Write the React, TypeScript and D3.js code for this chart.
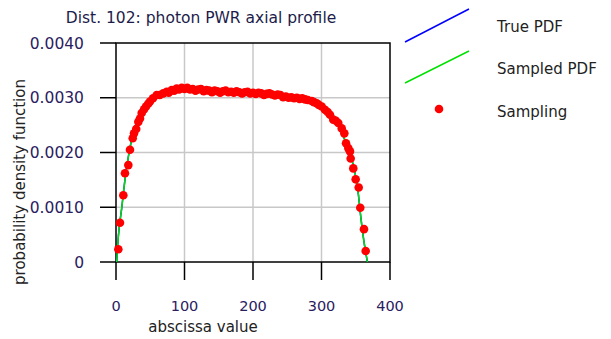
import React, { useRef, useEffect } from "react";
import * as d3 from "d3";

// sampled points (abscissa, pdf)
const sampleX = [
  3.4, 5.8, 10.7, 13.1, 18, 20.4, 24.4, 26.3, 29.5, 32.6, 35, 37.5, 41, 43.8, 47, 49.6, 54, 59.4, 64, 69, 74,
  77, 81.3, 85, 88.6, 92, 96, 100, 104, 108, 112, 116, 120, 124, 128, 132, 136, 140, 144, 148, 152, 156, 160,
  164, 168, 172, 176, 180, 184, 188, 192, 196, 200, 204, 208, 212, 216, 220, 224, 228, 232, 236, 240, 244, 248,
  252, 256, 260, 264, 268, 272, 276, 280, 285.7, 289, 293, 296, 300.3, 305.1, 309, 312.4, 317.2, 321, 324.5,
  329.5, 333.3, 335.8, 339.1, 341.6, 342.6, 346.4, 349.9, 354.3, 356.6, 362, 364.5,
];
const sampleY = [
  0.000232, 0.000718, 0.00122, 0.00162, 0.00177, 0.00205, 0.00226, 0.00235, 0.00243, 0.00256, 0.00262, 0.00272,
  0.00279, 0.00284, 0.00289, 0.00293, 0.00299, 0.00305, 0.00305, 0.00308, 0.00311, 0.00309, 0.00314, 0.00313,
  0.00317, 0.00315, 0.00318, 0.00316, 0.00318, 0.00315, 0.00316, 0.00313, 0.00315, 0.00316, 0.00312, 0.00314,
  0.00313, 0.0031, 0.00313, 0.00312, 0.00309, 0.00312, 0.00313, 0.0031, 0.00311, 0.00309, 0.00312, 0.0031,
  0.00308, 0.0031, 0.00311, 0.00308, 0.00309, 0.00307, 0.00309, 0.00308, 0.00305, 0.00307, 0.00308, 0.00306,
  0.00304, 0.00306, 0.00305, 0.00301, 0.00302, 0.003, 0.00301, 0.00299, 0.003, 0.00298, 0.00299, 0.00297,
  0.00296, 0.00294, 0.00292, 0.0029, 0.00287, 0.00284, 0.00278, 0.00274, 0.00269, 0.0026, 0.00258, 0.00254,
  0.00244, 0.00235, 0.00217, 0.00208, 0.00202, 0.00189, 0.00171, 0.00151, 0.00136, 0.00099, 0.0006, 0.0002,
];

// pdf curve (true / sampled pdf lie on top of each other)
const pdfX = [1, 3.4, 8.3, 13.1, 18, 27.7, 40, 55, 75, 100, 150, 200, 250, 280, 300, 320, 332, 344, 349, 353.7, 357, 361, 367];
const pdfY = [
  0, 0.00046, 0.00098, 0.0015, 0.00192, 0.00247, 0.00278, 0.003, 0.00312, 0.00316, 0.00313, 0.0031, 0.00303,
  0.00296, 0.00284, 0.00262, 0.00229, 0.00189, 0.00162, 0.00125, 0.00086, 0.00046, 0,
];

const xTicks = [0, 100, 200, 300, 400];
const yTicks = [0, 0.001, 0.002, 0.003, 0.004];
const yTickLabels = ["0", "0.0010", "0.0020", "0.0030", "0.0040"];
const legendItems = ["True PDF", "Sampled PDF", "Sampling"];

const W = 611;
const H = 339;
const margin = { top: 43, right: 221, bottom: 77, left: 116 };
const FONT = "DejaVu Sans, Verdana, sans-serif";

const Chart: React.FC = () => {
  const svgRef = useRef<SVGGElement | null>(null);

  useEffect(() => {
    if (!svgRef.current) return;
    const g = d3.select(svgRef.current);
    g.selectAll("*").remove();

    const innerW = W - margin.left - margin.right;
    const innerH = H - margin.top - margin.bottom;
    const x = d3.scaleLinear().domain([0, 400]).range([margin.left, margin.left + innerW]);
    const y = d3.scaleLinear().domain([0, 0.004]).range([margin.top + innerH, margin.top]);

    // grid
    g.append("g")
      .selectAll("line")
      .data(xTicks.slice(1, -1))
      .join("line")
      .attr("x1", (d) => x(d))
      .attr("x2", (d) => x(d))
      .attr("y1", y(0))
      .attr("y2", y(0.004))
      .attr("stroke", "#c8c8c8")
      .attr("stroke-width", 1.5);
    g.append("g")
      .selectAll("line")
      .data(yTicks.slice(1, -1))
      .join("line")
      .attr("x1", x(0))
      .attr("x2", x(400))
      .attr("y1", (d) => y(d))
      .attr("y2", (d) => y(d))
      .attr("stroke", "#c8c8c8")
      .attr("stroke-width", 1.5);

    // frame
    g.append("rect")
      .attr("x", x(0))
      .attr("y", y(0.004))
      .attr("width", x(400) - x(0))
      .attr("height", y(0) - y(0.004))
      .attr("fill", "none")
      .attr("stroke", "#000")
      .attr("stroke-width", 1.5);

    // ticks
    g.append("g")
      .selectAll("line")
      .data(xTicks)
      .join("line")
      .attr("x1", (d) => x(d))
      .attr("x2", (d) => x(d))
      .attr("y1", y(0))
      .attr("y2", y(0) + 18)
      .attr("stroke", "#000")
      .attr("stroke-width", 1.5);
    g.append("g")
      .selectAll("line")
      .data(yTicks)
      .join("line")
      .attr("x1", x(0) - 16)
      .attr("x2", x(0))
      .attr("y1", (d) => y(d))
      .attr("y2", (d) => y(d))
      .attr("stroke", "#000")
      .attr("stroke-width", 1.5);

    // tick labels
    g.append("g")
      .selectAll("text")
      .data(xTicks)
      .join("text")
      .attr("x", (d) => x(d))
      .attr("y", 311)
      .attr("text-anchor", "middle")
      .attr("font-family", FONT)
      .attr("font-size", 14.5)
      .attr("fill", "#2a2060")
      .text((d) => String(d));
    g.append("g")
      .selectAll("text")
      .data(yTicks)
      .join("text")
      .attr("x", 84)
      .attr("y", (d) => y(d))
      .attr("dy", "0.36em")
      .attr("text-anchor", "end")
      .attr("font-family", FONT)
      .attr("font-size", 15.5)
      .attr("fill", "#2a2060")
      .text((d, i) => yTickLabels[i]);

    // curves
    const line = d3
      .line<number>()
      .x((d) => x(d))
      .y((d, i) => y(pdfY[i]))
      .curve(d3.curveMonotoneX);
    g.append("path").attr("d", line(pdfX)).attr("fill", "none").attr("stroke", "#0000ff").attr("stroke-width", 1.5);
    g.append("path").attr("d", line(pdfX)).attr("fill", "none").attr("stroke", "#00e000").attr("stroke-width", 1.5);

    // sampling points
    g.append("g")
      .selectAll("circle")
      .data(sampleX)
      .join("circle")
      .attr("cx", (d) => x(d))
      .attr("cy", (d, i) => y(sampleY[i]))
      .attr("r", 4.3)
      .attr("fill", "#ff0000");

    // titles
    g.append("text")
      .attr("x", 201)
      .attr("y", 23)
      .attr("text-anchor", "middle")
      .attr("font-family", FONT)
      .attr("font-size", 15.5)
      .attr("fill", "#1c1c4a")
      .text("Dist. 102: photon PWR axial profile");
    g.append("text")
      .attr("x", 203)
      .attr("y", 332)
      .attr("text-anchor", "middle")
      .attr("font-family", FONT)
      .attr("font-size", 15)
      .attr("fill", "#222")
      .text("abscissa value");
    g.append("text")
      .attr("transform", "translate(25,182) rotate(-90)")
      .attr("text-anchor", "middle")
      .attr("font-family", FONT)
      .attr("font-size", 15)
      .attr("fill", "#222")
      .text("probability density function");

    // legend
    const legendY = [31.5, 73.5, 116.5];
    g.append("line").attr("x1", 405).attr("y1", 42).attr("x2", 469).attr("y2", 9).attr("stroke", "#0000ff").attr("stroke-width", 1.5);
    g.append("line").attr("x1", 405).attr("y1", 83).attr("x2", 469).attr("y2", 51).attr("stroke", "#00e000").attr("stroke-width", 1.5);
    g.append("circle").attr("cx", 439).attr("cy", 109).attr("r", 4.3).attr("fill", "#ff0000");
    g.append("g")
      .selectAll("text")
      .data(legendItems)
      .join("text")
      .attr("x", 497)
      .attr("y", (d, i) => legendY[i])
      .attr("font-family", FONT)
      .attr("font-size", 15)
      .attr("fill", "#222")
      .text((d) => d);
  }, []);

  return (
    <svg width={W} height={H} style={{ position: "absolute", left: 0, top: 0, background: "#fff" }}>
      <g ref={svgRef} />
    </svg>
  );
};

export default function App() {
  return <Chart />;
}
